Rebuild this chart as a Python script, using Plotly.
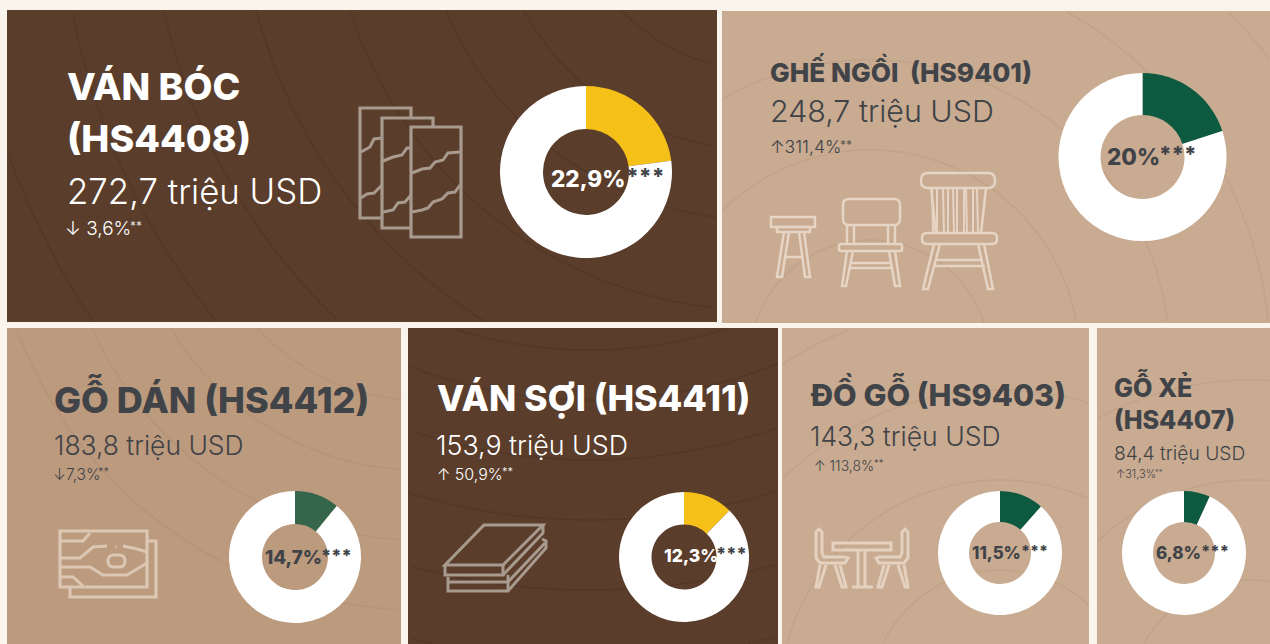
import math
import plotly.graph_objects as go

# ---------- data ----------
headings = [["VÁN BÓC", "(HS4408)"], ["GHẾ NGỒI  (HS9401)"], ["GỖ DÁN (HS4412)"],
            ["VÁN SỢI (HS4411)"], ["ĐỒ GỖ (HS9403)"], ["GỖ XẺ", "(HS4407)"]]
values_text = ["272,7 triệu USD", "248,7 triệu USD", "183,8 triệu USD",
               "153,9 triệu USD", "143,3 triệu USD", "84,4 triệu USD"]
changes = ["↓ 3,6%", "↑311,4%", "↓7,3%", "↑ 50,9%", "↑ 113,8%", "↑31,3%"]
share_labels = ["22,9%", "20%", "14,7%", "12,3%", "11,5%", "6,8%"]
share_drawn = [22.9, 20.0, 10.9, 12.3, 11.5, 6.8]

# ---------- layout / style ----------
W, H = 1270, 644
PAGE = "#F9F5EC"
DARK_TXT = "#404347"
panels = [(7, 10, 717, 322), (722, 11, 1270, 323), (7, 328, 401, 644),
          (408, 328, 778, 644), (782, 328, 1089, 644), (1097, 328, 1270, 644)]
panel_col = ["#5A3D2B", "#C9AB91", "#BC9A7E", "#5A3D2B", "#C9AB91", "#C9AB91"]
slice_col = ["#F5C018", "#0E5A40", "#35654A", "#F5C018", "#0E5A40", "#0E5A40"]
txt_col = ["#FFFFFF", DARK_TXT, DARK_TXT, "#FFFFFF", DARK_TXT, DARK_TXT]
donut = [(586, 172, 86), (1142.5, 157, 84), (295, 557, 66), (684, 557, 65), (1000, 553, 62), (1184, 553, 62)]
head_pos = [[(68, 86), (68, 138)], [(771, 70)], [(55, 398), ], [(438, 398)], [(811, 393)], [(1115, 385), (1115, 420)]]
head_size = [37.5, 26.2, 36, 35.7, 30.6, 25.2]
val_pos = [(68, 191), (771, 111), (55, 445), (437, 445), (811, 436), (1115, 453)]
val_size = [34.8, 30.4, 26.4, 26.8, 26.5, 19.2]
chg_pos = [(66, 228), (771, 146), (54, 474), (438, 474), (815, 465), (1117, 474)]
chg_size = [19, 17.5, 15.5, 16, 14, 11]
chg_star_pos = [(131, 225), (841, 144), (99, 472), (503, 472), (875, 462), (1156, 472)]
chg_star_size = [12, 12, 11, 11, 9.5, 7.5]
lab_pos = [(552, 178), (1108, 156), (266, 557), (665, 555), (973, 553), (1157, 553)]
lab_size = [22.5, 22.5, 18.8, 17.5, 16.8, 17]
star_pos = [(627, 176), (1160, 154), (322, 555), (717, 553), (1022, 551), (1202, 551)]
star_size = [22, 21.5, 17.5, 17.5, 15.5, 16]
ring_center = [(760, -120), (870, 360), (420, 180), (590, -100), (1000, 700), (1250, 700)]
ring_radii = [[190, 270, 340, 430, 520, 610, 700, 800], [120, 210, 300, 400, 500],
              [90, 150, 220, 290, 360, 430], [450, 500, 560, 620, 690, 760],
              [130, 220, 310, 400], [120, 220, 320]]

fig = go.Figure()
shapes = []
annots = []


def poly(pts, closed=False):
    return "M " + " L ".join(f"{x:.1f} {y:.1f}" for x, y in pts) + (" Z" if closed else "")


def rrect(x0, y0, x1, y1, r):
    return (f"M {x0+r} {y0} L {x1-r} {y0} Q {x1} {y0} {x1} {y0+r} L {x1} {y1-r} Q {x1} {y1} {x1-r} {y1} "
            f"L {x0+r} {y1} Q {x0} {y1} {x0} {y1-r} L {x0} {y0+r} Q {x0} {y0} {x0+r} {y0} Z")


def add_path(path, color, width=2.5, fill=None):
    shapes.append(dict(type="path", path=path, xref="x", yref="y", layer="below",
                       line=dict(color=color, width=width),
                       fillcolor=fill or "rgba(0,0,0,0)"))


def add_text(x, y, text, size, color, weight=400, family="Inter"):
    annots.append(dict(x=x - 3, y=y, xref="x", yref="y", xanchor="left", yanchor="middle",
                       text=text, showarrow=False, align="left",
                       font=dict(family=family, size=size, color=color, weight=weight)))


def arcs(panel, center, radii, color):
    x0, y0, x1, y1 = panel
    cx, cy = center
    for r in radii:
        seg = []
        for k in range(0, 721):
            a = math.radians(k / 2)
            p = (cx + r * math.cos(a), cy + r * math.sin(a))
            if x0 < p[0] < x1 and y0 < p[1] < y1:
                seg.append(p)
            else:
                if len(seg) > 2:
                    add_path(poly(seg), color, 1.5)
                seg = []
        if len(seg) > 2:
            add_path(poly(seg), color, 1.5)


# panels and wood rings
for i, (x0, y0, x1, y1) in enumerate(panels):
    shapes.append(dict(type="rect", x0=x0, y0=y0, x1=x1, y1=y1, xref="x", yref="y", layer="below",
                       line=dict(width=0), fillcolor=panel_col[i]))
    grain = "rgba(45,25,12,0.13)" if panel_col[i] == "#5A3D2B" else "rgba(120,85,55,0.09)"
    arcs(panels[i], ring_center[i], ring_radii[i], grain)

# --- icons ---
c1 = "#A89A8E"
add_path(poly([(382, 218), (360, 218), (360, 108), (411, 108), (411, 118)]), c1, 3.2)
add_path(poly([(411, 228), (382, 228), (382, 118), (433, 118), (433, 127)]), c1, 3.2)
add_path(poly([(411, 127), (461, 127), (461, 237), (411, 237)], True), c1, 3.2)
add_path(poly([(361, 152), (370, 147), (374, 139), (382, 138)]), c1, 3)
add_path(poly([(361, 198), (367, 194), (374, 193), (382, 185)]), c1, 3)
add_path(poly([(383, 161), (393, 157), (402, 155), (407, 148), (411, 148)]), c1, 3)
add_path(poly([(383, 212), (393, 210), (398, 203), (405, 202), (411, 195)]), c1, 3)
add_path(poly([(412, 173), (422, 169), (430, 168), (435, 162), (443, 160), (448, 153), (460, 152)]), c1, 3)
add_path(poly([(412, 212), (422, 210), (428, 208), (433, 202), (442, 199), (448, 193), (455, 192), (460, 185)]), c1, 3)

c2 = "#E6D4C4"
# stool
add_path(poly([(771, 217), (815, 217), (815, 227), (771, 227)], True), c2)
add_path(poly([(777, 227), (810, 227), (810, 232), (777, 232)], True), c2)
add_path(poly([(784, 232), (777, 277), (782, 277), (789, 232)]), c2)
add_path(poly([(799, 232), (805, 277), (810, 277), (804, 232)]), c2)
add_path(poly([(786, 257), (802, 257)]), c2)
# chair
add_path(rrect(843, 199, 900, 225, 6), c2)
add_path(poly([(847, 225), (847, 244)]), c2)
add_path(poly([(854, 225), (854, 244)]), c2)
add_path(poly([(888, 225), (888, 244)]), c2)
add_path(poly([(895, 225), (895, 244)]), c2)
add_path(rrect(839, 244, 902, 251, 2), c2)
add_path(poly([(847, 251), (842, 286), (846, 286), (853, 251)]), c2)
add_path(poly([(889, 251), (895, 286), (900, 286), (895, 251)]), c2)
add_path(poly([(851, 263), (890, 263)]), c2)
add_path(poly([(850, 268), (891, 268)]), c2)
# big chair
add_path(rrect(921, 173, 995, 188, 7), c2)
for xs in [(932, 937), (943, 948), (953, 957), (966, 964), (977, 973)]:
    add_path(poly([(xs[0], 188), (xs[0] + 1, 233)]), c2, 2)
    add_path(poly([(xs[1], 188), (xs[1], 233)]), c2, 2)
add_path(poly([(931, 188), (936, 233)]), c2)
add_path(poly([(986, 188), (981, 233)]), c2)
add_path(rrect(922, 233, 997, 244, 5), c2)
add_path(poly([(934, 244), (923, 289), (928, 289), (940, 244)]), c2)
add_path(poly([(978, 244), (988, 289), (993, 289), (984, 244)]), c2)
add_path(poly([(935, 260), (983, 260)]), c2)
add_path(poly([(934, 266), (985, 266)]), c2)

c3 = "#DCC7B4"
add_path(poly([(60, 531), (147, 531), (147, 587), (60, 587)], True), c3, 3.2)
add_path(poly([(148, 541), (156, 541), (156, 597), (70, 597), (70, 587)]), c3, 3.2)
add_path(poly([(60, 541), (83, 541), (90, 533)]), c3, 3)
add_path(poly([(60, 558), (80, 558), (93, 547), (107, 546)]), c3, 3)
add_path(poly([(123, 546), (137, 549), (147, 552)]), c3, 3)
add_path(poly([(115.5, 547), (116.5, 547)]), c3, 3)
add_path(poly([(60, 567), (90, 567), (103, 575), (127, 575), (147, 563)]), c3, 3)
add_path(poly([(60, 577), (73, 577), (83, 586)]), c3, 3)
add_path(rrect(108, 555, 125, 567, 6), c3, 3)

c4 = "#A89A8E"
add_path(poly([(445, 565), (484, 525), (543, 525), (503, 565)], True), c4, 3)
add_path(poly([(445, 565), (445, 575), (503, 575), (503, 565)]), c4, 3)
add_path(poly([(503, 575), (543, 533), (543, 525)]), c4, 3)
add_path(poly([(448, 577), (448, 591), (508, 591), (546, 548), (546, 541), (542, 539)]), c4, 3)
add_path(poly([(448, 582), (508, 582), (545, 543)]), c4, 3)
add_path(poly([(508, 575), (508, 591)]), c4, 3)

c5 = "#E4D1C0"
add_path(poly([(833, 543), (891, 543), (891, 550), (833, 550)], True), c5, 3)
add_path(poly([(858, 550), (858, 587)]), c5, 3)
add_path(poly([(865, 550), (865, 587)]), c5, 3)
add_path(poly([(852, 587), (873, 587)]), c5, 3)
for mirror in (0, 1):
    m = (lambda x: x) if mirror == 0 else (lambda x: 1724 - x)
    add_path(poly([(m(816), 532), (m(816), 558), (m(820), 563), (m(845), 563), (m(848), 558), (m(845), 557),
                   (m(824), 557), (m(822), 553), (m(822), 532), (m(819), 529)], True), c5, 3)
    add_path(poly([(m(820), 565), (m(816), 587), (m(819), 587), (m(826), 565)]), c5, 3)
    add_path(poly([(m(835), 565), (m(842), 587), (m(846), 587), (m(840), 565)]), c5, 3)

# --- donuts ---
for i, (cx, cy, r) in enumerate(donut):
    fig.add_trace(go.Pie(
        values=[share_drawn[i], 100 - share_drawn[i]],
        labels=[share_labels[i], "Khác"],
        sort=False, direction="clockwise", rotation=0, hole=0.5,
        textinfo="none", hoverinfo="skip", showlegend=False,
        marker=dict(colors=[slice_col[i], "#FFFFFF"], line=dict(width=0)),
        domain=dict(x=[(cx - r) / W, (cx + r) / W], y=[1 - (cy + r) / H, 1 - (cy - r) / H]),
    ))

# needed so the pixel axes exist
fig.add_trace(go.Scatter(x=[None], y=[None], showlegend=False, hoverinfo="skip"))

# --- texts ---
for i in range(6):
    for line, (x, y) in zip(headings[i], head_pos[i]):
        add_text(x, y, line, head_size[i], txt_col[i], 800)
    add_text(*val_pos[i], values_text[i], val_size[i], txt_col[i], 300)
    add_text(*chg_pos[i], changes[i], chg_size[i], txt_col[i], 300)
    add_text(*chg_star_pos[i], "**", chg_star_size[i], txt_col[i], 300)
    add_text(*lab_pos[i], share_labels[i], lab_size[i], txt_col[i], 800)
    add_text(*star_pos[i], "***", star_size[i], DARK_TXT, 800)

fig.update_layout(
    width=W, height=H, margin=dict(l=0, r=0, t=0, b=0),
    paper_bgcolor=PAGE, plot_bgcolor=PAGE,
    xaxis=dict(range=[0, W], visible=False, fixedrange=True),
    yaxis=dict(range=[H, 0], visible=False, fixedrange=True),
    shapes=shapes, annotations=annots, showlegend=False,
)
fig.write_html("out.html", post_script="document.body.style.margin='0';document.body.style.overflow='hidden';",
               config=dict(displayModeBar=False))
